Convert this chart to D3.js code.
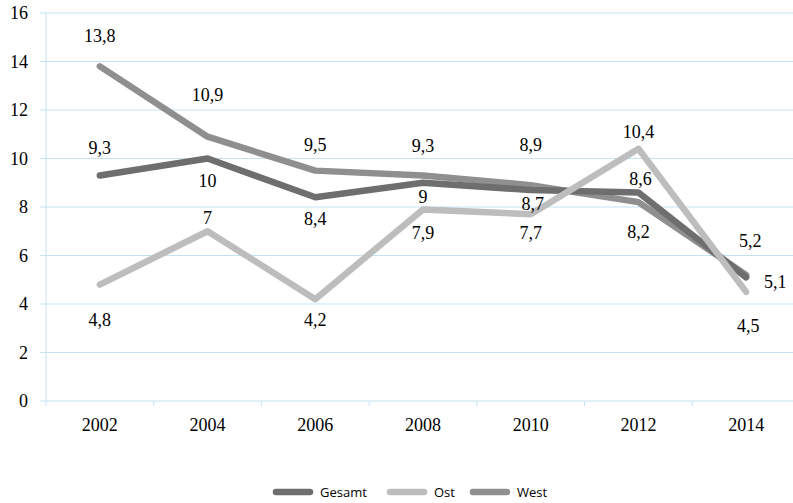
<!DOCTYPE html>
<html>
<head>
<meta charset="utf-8">
<script src="https://cdn.jsdelivr.net/npm/d3@7"></script>
<style>
  body { margin: 0; background: #fff; }
  svg { display: block; }
</style>
</head>
<body>
<div id="svg-div"></div>
<script>
var years = ["2002", "2004", "2006", "2008", "2010", "2012", "2014"];
var yTicks = [0, 2, 4, 6, 8, 10, 12, 14, 16];
var seriesNames = ["Gesamt", "Ost", "West"];
var gesamt = [9.3, 10, 8.4, 9, 8.7, 8.6, 5.1];
var ost = [4.8, 7, 4.2, 7.9, 7.7, 10.4, 4.5];
var west = [13.8, 10.9, 9.5, 9.3, 8.9, 8.2, 5.2];

// label offsets from the point (px), as placed in the original
var gesamtOff = [[0, -28], [0, 22], [0, 21], [0, 14], [2, 14], [2, -14], [29, 4]];
var ostOff = [[0, 35], [0, -14], [0, 21], [0, 23], [0, 18], [0, -17], [2, 34]];
var westOff = [[0, -31], [0, -42], [0, -26], [0, -30], [0, -40], [0, 30], [4, -34]];

var colors = { Gesamt: "#6e6e6e", Ost: "#bdbdbd", West: "#8f8f8f" };

var width = 793;
var height = 503;
var plotLeft = 46, plotRight = 800, plotTop = 13, plotBottom = 401;

var svg = d3.select("#svg-div").append("svg")
  .attr("width", width).attr("height", height);

var x = d3.scaleBand().domain(years).range([plotLeft, plotRight]);
var y = d3.scaleLinear().domain([0, 16]).range([plotBottom, plotTop]);

var serif = "'Liberation Serif', serif";

// gridlines
svg.append("g").selectAll("line").data(yTicks).enter().append("line")
  .attr("x1", plotLeft - 6).attr("x2", plotRight)
  .attr("y1", function(d) { return y(d); })
  .attr("y2", function(d) { return y(d); })
  .style("stroke", "#c5e2f5").style("stroke-width", 1);

// y axis line
svg.append("line")
  .attr("x1", plotLeft).attr("x2", plotLeft).attr("y1", plotTop).attr("y2", plotBottom + 5)
  .style("stroke", "#c5e2f5").style("stroke-width", 1);

// x ticks
svg.append("g").selectAll("line").data(years.slice(1)).enter().append("line")
  .attr("x1", function(d) { return x(d); })
  .attr("x2", function(d) { return x(d); })
  .attr("y1", plotBottom).attr("y2", plotBottom + 5)
  .style("stroke", "#c5e2f5").style("stroke-width", 1);

// y tick labels
svg.append("g").selectAll("text").data(yTicks).enter().append("text")
  .attr("x", 28).attr("y", function(d) { return y(d); })
  .attr("dy", "0.35em").attr("text-anchor", "end")
  .style("font-family", serif).style("font-size", "18px")
  .text(function(d) { return d; });

// x tick labels
svg.append("g").selectAll("text").data(years).enter().append("text")
  .attr("x", function(d) { return x(d) + x.bandwidth() / 2; })
  .attr("y", 431).attr("text-anchor", "middle")
  .style("font-family", serif).style("font-size", "18px")
  .text(function(d) { return d; });

var cx = function(d, i) { return x(years[i]) + x.bandwidth() / 2; };
var line = d3.line().x(cx).y(function(d) { return y(d); });

var series = [
  { name: "Gesamt", values: gesamt, off: gesamtOff },
  { name: "Ost", values: ost, off: ostOff },
  { name: "West", values: west, off: westOff }
];

// Ost goes on top where it crosses
var drawOrder = [series[2], series[0], series[1]];
drawOrder.forEach(function(s) {
  svg.append("path").datum(s.values)
    .attr("d", line)
    .style("fill", "none")
    .style("stroke", colors[s.name])
    .style("stroke-width", 6.5)
    .style("stroke-linecap", "round")
    .style("stroke-linejoin", "round");
});

function fmt(v) { return String(v).replace(".", ","); }

series.forEach(function(s) {
  svg.append("g").selectAll("text").data(s.values).enter().append("text")
    .attr("x", function(d, i) { return cx(d, i) + s.off[i][0]; })
    .attr("y", function(d, i) { return y(d) + s.off[i][1]; })
    .attr("dy", "0.35em").attr("text-anchor", "middle")
    .style("font-family", serif).style("font-size", "18px")
    .text(fmt);
});

// legend
var legendX = [273, 387, 470];
var legend = svg.append("g");
series.forEach(function(s, i) {
  legend.append("line")
    .attr("x1", legendX[i] + 3).attr("x2", legendX[i] + 37)
    .attr("y1", 492).attr("y2", 492)
    .style("stroke", colors[s.name]).style("stroke-width", 6.5)
    .style("stroke-linecap", "round");
  legend.append("text")
    .attr("x", legendX[i] + 47).attr("y", 492).attr("dy", "0.35em")
    .style("font-family", "'Open Sans', sans-serif").style("font-size", "13px")
    .text(s.name);
});
</script>
</body>
</html>
